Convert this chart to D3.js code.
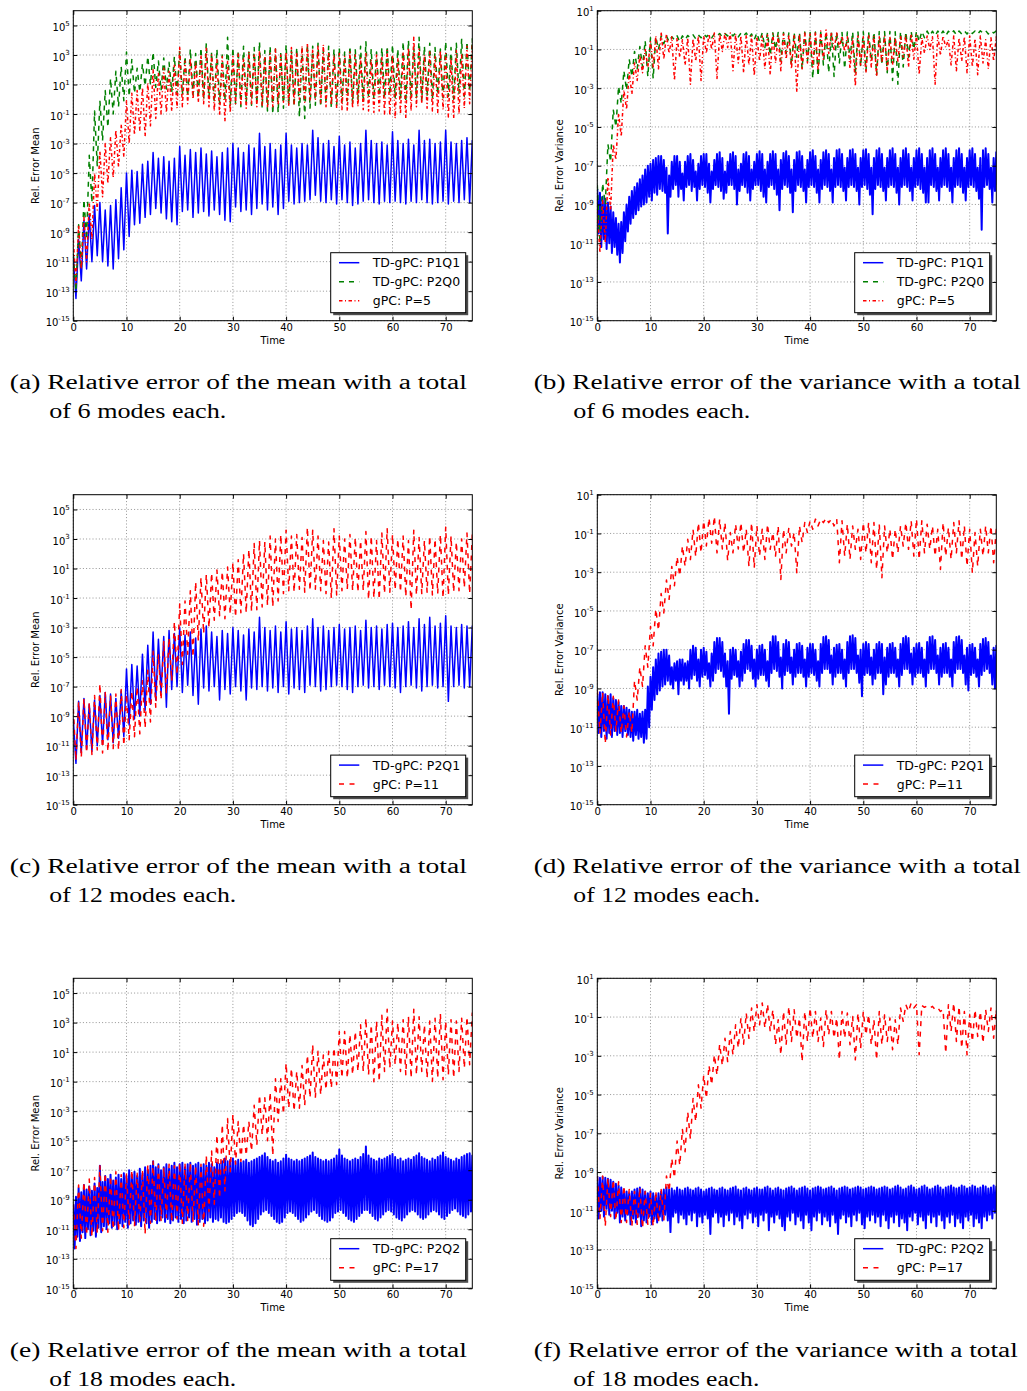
<!DOCTYPE html>
<html>
<head>
<meta charset="utf-8">
<script src="https://cdn.jsdelivr.net/npm/d3@7"></script>
<style>
  body { margin: 0; background: #fff; }
  svg { display: block; }
</style>
</head>
<body>
<svg id="fig" width="1027" height="1391"></svg>
<script>
// Relative error histories, stored as log10 of the error.
// Each series is sampled on a uniform time step; within every step the
// curve swings from its upper value (Hi) down to its lower value (Lo).

const timeTicks = [0, 10, 20, 30, 40, 50, 60, 70];
const meanExponents = [5, 3, 1, -1, -3, -5, -7, -9, -11, -13, -15];
const varExponents = [1, -1, -3, -5, -7, -9, -11, -13, -15];

// (a) mean, 6 modes (step 1)
const aP1Q1Hi = [-10.5,-9.5,-8.2,-7.8,-7.2,-7.0,-7.5,-7.2,-6.8,-6.0,
  -5.0,-4.8,-4.9,-4.4,-4.2,-3.6,-4.0,-3.9,-4.2,-4.0,
  -3.2,-3.8,-3.4,-3.6,-3.3,-3.7,-3.5,-3.9,-3.6,-3.3,
  -3.0,-3.3,-3.6,-3.1,-3.3,-2.3,-3.2,-3.0,-3.4,-3.1,
  -2.3,-3.1,-3.3,-3.0,-3.1,-2.1,-2.6,-3.0,-2.8,-3.2,
  -2.5,-3.1,-2.9,-3.3,-3.0,-2.1,-2.8,-3.0,-2.9,-3.1,
  -2.2,-2.8,-3.0,-2.7,-3.1,-2.1,-2.8,-2.7,-3.0,-2.9,
  -2.1,-2.9,-3.0,-2.8,-2.6,-2.8];
const aP1Q1Lo = [-13.5,-12.3,-11.5,-11.0,-10.6,-11.0,-11.3,-11.5,-10.8,-10.2,
  -9.3,-8.5,-8.4,-8.0,-7.8,-7.4,-7.7,-8.1,-8.3,-8.5,
  -7.6,-7.5,-8.0,-7.7,-7.6,-7.9,-7.5,-7.8,-8.2,-8.3,
  -7.3,-7.6,-7.5,-7.8,-7.4,-7.1,-7.5,-7.3,-7.8,-7.4,
  -6.9,-7.1,-7.0,-6.9,-6.8,-6.5,-6.9,-7.0,-6.8,-7.1,
  -6.8,-7.0,-7.2,-7.1,-6.9,-6.8,-7.0,-7.1,-6.9,-7.0,
  -6.9,-7.0,-7.1,-6.9,-7.0,-6.8,-7.0,-7.1,-7.0,-6.9,
  -7.1,-6.9,-7.0,-6.8,-7.0,-6.1];
const aP2Q0Hi = [-10.5,-8.5,-6.8,-3.8,-0.8,-0.1,0.6,1.4,1.9,2.2,
  3.2,2.7,2.1,2.4,2.9,3.2,2.6,2.8,2.5,2.9,
  3.3,2.9,3.4,3.1,3.5,3.8,3.2,3.4,3.0,4.2,
  3.5,3.3,3.6,3.2,3.5,3.9,3.3,3.6,3.4,3.2,
  3.7,3.3,3.5,3.4,3.7,3.6,3.8,3.3,3.6,3.4,
  3.5,3.2,3.6,3.4,3.6,3.9,3.4,3.2,3.5,3.6,
  3.7,3.4,3.9,4.0,3.5,4.2,3.6,3.8,3.5,3.4,
  3.9,3.5,3.8,4.1,3.9,4.1];
const aP2Q0Lo = [-13.0,-11.5,-9.5,-7.0,-4.5,-2.8,-1.9,-1.0,-0.5,-0.1,
  0.2,0.4,0.5,0.9,1.0,0.8,0.6,0.7,0.5,0.4,
  0.3,0.2,0.3,0.1,0.0,0.1,-0.2,-0.3,-0.1,-0.4,
  -0.3,-0.5,-0.2,-0.4,-0.3,-0.6,-0.8,-1.0,-0.9,-0.6,
  -0.4,-0.5,-1.2,-1.3,-0.6,-0.4,-0.5,-0.3,-0.6,-0.4,
  -0.2,-0.1,-0.3,0.0,-0.2,0.1,0.0,0.2,0.1,0.3,
  0.1,0.0,-0.2,0.0,0.1,-0.1,0.2,0.0,0.3,0.1,
  0.2,0.0,0.4,0.2,0.5,0.3];
const aP5Hi = [-9.5,-8.5,-8.0,-7.0,-5.0,-3.5,-3.0,-2.6,-2.1,-1.7,
  -0.1,0.4,0.6,0.8,1.1,2.0,1.8,2.1,1.9,2.3,
  3.5,2.6,2.8,2.5,3.0,3.5,3.0,2.7,2.9,2.6,
  2.9,3.1,2.8,3.2,3.0,3.3,2.9,3.1,3.4,3.0,
  3.2,3.5,3.1,3.6,3.8,3.4,3.6,3.7,3.2,3.0,
  3.1,2.9,3.2,3.0,2.8,3.1,2.7,3.0,2.9,3.3,
  3.0,2.8,3.2,3.5,4.2,3.4,3.0,3.2,2.9,3.3,
  3.1,2.8,3.3,3.0,3.6,3.7];
const aP5Lo = [-12.5,-11.5,-11.0,-9.5,-7.5,-6.6,-5.7,-5.3,-4.6,-3.9,
  -3.0,-2.4,-2.1,-2.5,-1.8,-1.3,-1.0,-0.9,-0.8,-0.6,
  -0.5,-0.3,0.0,-0.2,-0.3,-0.5,-0.8,-1.1,-1.5,-0.9,
  -0.3,-0.4,-0.6,-0.3,-0.5,-0.4,-0.6,-0.5,-0.3,-0.2,
  -0.4,-0.3,0.0,-0.2,-0.1,0.0,-0.3,-0.5,-0.4,-0.6,
  -0.7,-0.8,-0.6,-0.5,-0.7,-0.8,-0.9,-0.8,-1.0,-1.1,
  -1.3,-1.0,-1.3,-0.8,-0.5,-0.3,-0.6,-0.8,-0.9,-0.7,
  -1.2,-1.3,-1.0,-0.6,-0.3,0.4];

// (b) variance, 6 modes (P1Q1 at step 0.5, others step 1)
const bP1Q1Hi = [-8.2,-8.4,-8.6,-8.7,-8.9,-9.1,-9.4,-9.7,-10.0,-9.9,
  -9.4,-9.0,-8.6,-8.3,-8.1,-7.9,-7.7,-7.5,-7.2,-7.0,
  -6.9,-6.7,-6.6,-6.5,-6.5,-6.7,-7.1,-7.5,-6.8,-6.5,
  -6.5,-6.8,-7.4,-6.8,-6.5,-6.4,-6.7,-7.3,-6.9,-6.5,
  -6.4,-6.4,-6.9,-7.3,-6.7,-6.4,-6.3,-6.6,-7.3,-6.8,
  -6.4,-6.3,-6.5,-7.2,-6.9,-6.4,-6.3,-6.5,-7.2,-6.8,
  -6.4,-6.25,-6.4,-7.2,-6.8,-6.4,-6.25,-6.4,-7.2,-6.7,
  -6.35,-6.25,-6.5,-7.2,-6.7,-6.3,-6.25,-6.5,-7.2,-6.7,
  -6.3,-6.2,-6.5,-7.2,-6.7,-6.3,-6.2,-6.4,-7.2,-6.6,
  -6.2,-6.15,-6.4,-7.1,-6.6,-6.2,-6.15,-6.4,-7.1,-6.6,
  -6.2,-6.15,-6.4,-7.1,-6.6,-6.2,-6.1,-6.4,-7.1,-6.6,
  -6.2,-6.1,-6.4,-7.1,-6.6,-6.2,-6.1,-6.4,-7.1,-6.6,
  -6.2,-6.1,-6.4,-7.1,-6.6,-6.2,-6.1,-6.4,-7.1,-6.6,
  -6.2,-6.1,-6.4,-7.1,-6.6,-6.2,-6.1,-6.4,-7.1,-6.6,
  -6.2,-6.1,-6.4,-7.1,-6.6,-6.2,-6.1,-6.4,-7.1,-6.6,
  -6.3];
const bP1Q1Lo = [-10.5,-11.2,-10.8,-11.3,-11.0,-11.5,-11.2,-11.6,-12.0,-11.5,
  -10.9,-10.4,-10.0,-9.7,-9.5,-9.3,-9.1,-9.0,-8.9,-8.6,
  -8.8,-8.4,-8.5,-8.2,-8.3,-8.4,-10.5,-8.6,-8.2,-8.0,
  -8.6,-8.2,-8.8,-8.1,-8.0,-8.3,-8.1,-8.8,-8.2,-8.0,
  -8.1,-8.4,-8.9,-8.2,-8.0,-8.1,-8.3,-8.7,-8.4,-8.0,
  -8.0,-8.2,-9.0,-8.3,-8.0,-8.1,-8.4,-8.8,-8.2,-8.0,
  -8.0,-8.3,-8.6,-8.9,-8.1,-8.0,-8.2,-8.5,-9.3,-8.2,
  -8.0,-8.1,-8.4,-9.4,-8.3,-8.0,-8.1,-8.3,-8.9,-8.1,
  -8.0,-8.1,-8.4,-8.9,-8.2,-8.0,-8.1,-8.3,-8.9,-8.1,
  -8.0,-8.1,-8.3,-8.8,-8.1,-8.0,-8.1,-8.3,-9.0,-8.1,
  -8.0,-8.2,-8.5,-9.5,-8.2,-8.0,-8.1,-8.3,-8.8,-8.1,
  -8.0,-8.1,-8.4,-9.0,-8.1,-8.0,-8.1,-8.3,-8.8,-8.1,
  -8.0,-8.2,-8.4,-8.9,-8.9,-8.0,-8.1,-8.3,-8.8,-8.1,
  -8.0,-8.1,-8.3,-8.9,-8.1,-8.0,-8.1,-8.4,-8.8,-8.1,
  -8.0,-8.1,-8.3,-8.7,-10.3,-8.1,-8.0,-8.2,-8.9,-8.3,
  -8.0];
const bP2Q0Hi = [-8.0,-7.9,-5.9,-4.1,-2.9,-2.1,-1.5,-1.1,-0.85,-0.55,
  -0.4,-0.35,-0.3,-0.3,-0.35,-0.3,-0.3,-0.28,-0.25,-0.25,
  -0.2,-0.22,-0.2,-0.18,-0.18,-0.15,-0.15,-0.16,-0.15,-0.2,
  -0.15,-0.14,-0.13,-0.14,-0.12,-0.12,-0.15,-0.12,-0.12,-0.1,
  -0.12,-0.1,-0.11,-0.1,-0.1,-0.09,-0.12,-0.1,-0.09,-0.1,
  -0.08,-0.09,-0.1,-0.08,-0.08,-0.07,-0.09,-0.07,-0.08,-0.06,
  -0.06,-0.07,-0.05,-0.06,-0.05,-0.05,-0.06,-0.04,-0.05,-0.04,
  -0.04,-0.05,-0.04,-0.03,-0.04,-0.04];
const bP2Q0Lo = [-11.0,-9.0,-6.8,-5.0,-3.8,-3.1,-2.4,-2.0,-1.9,-2.4,
  -2.5,-1.0,-0.7,-0.6,-0.5,-0.6,-0.5,-0.4,-0.45,-0.4,
  -0.35,-0.4,-0.3,-0.35,-0.3,-0.3,-0.35,-0.3,-0.4,-0.5,
  -0.6,-0.9,-1.3,-1.0,-1.6,-1.2,-1.8,-1.4,-2.0,-1.6,
  -2.5,-2.4,-1.8,-2.2,-2.4,-1.7,-2.0,-1.5,-2.2,-1.9,
  -2.1,-1.6,-2.3,-1.8,-2.2,-2.6,-2.8,-1.9,-1.4,-1.0,
  -0.6,-0.4,-0.3,-0.3,-0.25,-0.3,-0.2,-0.25,-0.2,-0.2,
  -0.18,-0.2,-0.15,-0.2,-0.15,-0.15];
const bP5Hi = [-9.3,-8.8,-7.6,-5.9,-4.3,-3.1,-2.2,-1.7,-1.3,-1.0,
  -0.6,-0.3,-0.1,-0.2,-0.35,-0.4,-0.5,-0.4,-0.45,-0.3,
  -0.3,-0.2,-0.15,-0.2,-0.15,-0.15,-0.2,-0.3,-0.25,-0.3,
  -0.35,-0.3,-0.25,-0.2,-0.3,-0.2,-0.3,-0.25,-0.2,-0.15,
  -0.2,-0.1,-0.05,0.0,-0.1,-0.15,-0.3,-0.35,-0.4,-0.3,
  -0.35,-0.25,-0.3,-0.35,-0.3,-0.35,-0.4,-0.3,-0.25,-0.2,
  -0.25,-0.4,-0.3,-0.35,-0.25,-0.3,-0.5,-0.3,-0.4,-0.35,
  -0.3,-0.45,-0.3,-0.5,-0.4,-0.35];
const bP5Lo = [-11.5,-11.0,-9.3,-6.7,-5.5,-4.1,-3.3,-2.6,-2.2,-1.9,
  -1.9,-2.0,-1.5,-1.2,-2.6,-1.4,-1.8,-2.8,-1.6,-2.6,
  -1.2,-1.0,-2.5,-1.1,-0.9,-2.1,-1.7,-2.2,-1.8,-2.35,
  -1.6,-2.0,-2.3,-1.7,-2.1,-1.5,-2.0,-3.2,-2.0,-1.7,
  -1.9,-2.1,-1.5,-1.2,-1.0,-0.9,-1.1,-2.0,-2.9,-1.8,
  -2.2,-1.9,-2.4,-1.7,-2.1,-1.8,-1.6,-1.4,-1.9,-1.5,
  -2.3,-1.2,-1.0,-2.8,-1.3,-0.9,-1.8,-2.1,-1.6,-2.2,
  -1.9,-2.3,-1.7,-2.0,-1.6,-1.9];

// (c) mean, 12 modes (step 1)
const cP2Q1Hi = [-9.2,-8.0,-7.8,-8.2,-7.9,-7.6,-7.4,-7.5,-7.8,-7.3,
  -5.8,-5.5,-5.6,-4.8,-4.2,-3.3,-3.8,-3.6,-3.2,-3.4,
  -3.0,-3.5,-3.3,-3.7,-3.1,-2.9,-3.3,-3.6,-3.2,-3.4,
  -3.0,-3.2,-3.5,-3.1,-3.3,-2.3,-3.0,-3.2,-2.9,-3.3,
  -2.6,-3.1,-3.0,-3.2,-2.9,-2.4,-3.0,-2.9,-3.2,-3.0,
  -2.8,-3.1,-3.0,-2.9,-3.2,-2.5,-3.0,-2.9,-3.1,-2.8,
  -2.7,-3.0,-2.9,-2.6,-3.0,-2.4,-2.8,-2.3,-2.9,-2.7,
  -2.2,-2.9,-3.0,-2.8,-2.9,-2.9];
const cP2Q1Lo = [-12.2,-11.5,-11.2,-11.4,-11.0,-10.9,-10.6,-10.8,-10.5,-10.4,
  -9.6,-9.2,-9.0,-8.6,-8.2,-7.9,-7.4,-8.4,-7.2,-7.0,
  -7.4,-6.9,-7.6,-8.2,-7.1,-7.3,-7.0,-7.9,-7.2,-7.5,
  -7.0,-7.3,-7.9,-7.1,-7.2,-7.0,-7.3,-7.1,-7.4,-7.0,
  -7.5,-7.1,-7.2,-7.4,-6.9,-7.0,-7.3,-7.2,-7.0,-6.9,
  -7.0,-7.2,-7.4,-7.0,-6.9,-7.1,-7.0,-7.2,-6.9,-7.0,
  -7.1,-7.4,-7.0,-6.9,-7.1,-7.3,-7.0,-6.9,-7.1,-7.0,
  -8.0,-7.0,-6.9,-7.1,-7.0,-6.6];
const cP11Hi = [-8.5,-8.0,-7.8,-8.1,-7.6,-6.8,-7.4,-7.6,-7.5,-7.2,
  -7.5,-7.3,-7.0,-6.6,-5.9,-4.6,-4.8,-3.9,-3.7,-2.6,
  -1.4,-1.2,-0.5,0.1,0.4,0.6,0.7,0.9,0.8,1.1,
  1.4,1.6,2.0,2.3,2.7,2.9,2.8,3.2,3.0,3.3,
  3.6,3.2,3.3,3.1,3.8,3.6,3.2,2.9,2.8,3.7,
  3.2,3.0,3.3,3.1,2.9,3.5,3.2,2.9,3.4,3.7,
  3.3,3.0,3.2,2.9,3.6,3.1,2.9,3.2,3.0,3.3,
  3.8,3.2,2.8,3.0,3.4,3.3];
const cP11Lo = [-12.0,-11.8,-11.5,-11.6,-11.3,-11.5,-11.4,-11.2,-11.3,-11.0,
  -10.6,-10.4,-10.2,-9.8,-9.4,-8.4,-7.9,-7.5,-6.6,-6.2,
  -5.5,-4.8,-5.0,-3.9,-3.4,-3.0,-2.5,-2.2,-2.4,-2.1,
  -2.3,-2.0,-2.0,-1.9,-1.8,-1.6,-1.5,-1.6,-1.2,-0.7,
  -0.5,-0.6,-0.4,-0.6,-0.5,-0.4,-0.5,-0.7,-1.0,-0.8,
  -0.5,-0.4,-0.5,-0.6,-0.5,-1.1,-1.0,-1.1,-0.7,-0.6,
  -0.45,-0.6,-0.9,-1.8,-0.8,-0.7,-0.6,-0.8,-0.7,-1.0,
  -0.8,-0.6,-0.5,-0.3,-0.7,0.2];

// (d) variance, 12 modes (P2Q1 at step 0.5, P=11 at step 1)
const dP2Q1Hi = [-9.3,-9.2,-9.2,-9.3,-9.4,-9.3,-9.5,-9.6,-9.7,-9.9,
  -9.9,-10.0,-10.1,-10.2,-10.2,-10.1,-10.3,-10.2,-10.1,-8.9,
  -8.4,-7.9,-7.5,-7.2,-7.1,-7.0,-7.0,-7.3,-7.9,-7.7,
  -7.6,-7.5,-7.5,-7.7,-7.6,-7.0,-6.8,-6.9,-7.5,-7.0,
  -6.9,-7.1,-7.7,-7.2,-6.6,-6.4,-6.4,-6.6,-7.2,-7.6,
  -7.0,-6.9,-7.0,-7.6,-7.1,-6.7,-6.5,-6.5,-6.8,-7.5,
  -7.0,-6.8,-6.75,-7.0,-7.6,-6.6,-6.3,-6.3,-6.6,-7.4,
  -6.7,-6.5,-6.6,-7.4,-7.0,-6.7,-6.65,-6.8,-7.5,-6.9,
  -6.7,-6.7,-7.0,-7.6,-6.7,-6.35,-6.3,-6.5,-7.3,-6.9,
  -6.75,-6.7,-7.0,-7.5,-6.6,-6.3,-6.25,-6.4,-7.3,-7.0,
  -6.7,-6.6,-6.7,-7.4,-7.0,-6.7,-6.6,-6.7,-7.4,-6.9,
  -6.7,-6.65,-6.9,-7.5,-6.7,-6.4,-6.3,-6.4,-7.2,-6.9,
  -6.7,-6.65,-6.9,-7.5,-6.6,-6.35,-6.3,-6.5,-7.3,-6.9,
  -6.7,-6.65,-6.9,-7.5,-6.6,-6.35,-6.3,-6.5,-7.3,-6.9,
  -6.75,-6.7,-6.9,-7.5,-6.7,-6.45,-6.4,-6.6,-7.3,-6.9,
  -6.8];
const dP2Q1Lo = [-11.3,-11.5,-11.2,-11.6,-11.3,-11.5,-11.2,-11.4,-11.3,-11.5,
  -11.2,-11.4,-11.5,-11.7,-11.4,-11.6,-11.5,-11.8,-11.6,-11.0,
  -10.1,-9.6,-9.3,-9.1,-8.9,-8.8,-8.6,-8.8,-9.0,-8.6,
  -9.3,-8.6,-8.8,-8.6,-9.0,-8.5,-8.3,-8.6,-8.9,-8.4,
  -8.3,-8.5,-8.9,-8.6,-8.2,-8.0,-8.1,-8.4,-8.9,-10.3,
  -8.5,-8.3,-8.4,-8.9,-8.6,-8.2,-8.0,-8.1,-8.5,-8.9,
  -8.5,-8.3,-8.3,-8.6,-8.9,-8.2,-8.0,-8.1,-8.4,-9.0,
  -8.3,-8.1,-8.2,-8.8,-8.4,-8.2,-8.2,-8.4,-8.9,-8.4,
  -8.2,-8.3,-8.6,-8.9,-8.2,-8.0,-8.0,-8.2,-8.8,-8.4,
  -8.2,-8.2,-8.5,-8.9,-8.2,-8.0,-8.0,-8.2,-8.7,-9.4,
  -8.3,-8.2,-8.3,-8.8,-8.5,-8.2,-8.2,-9.3,-8.8,-8.4,
  -8.2,-8.2,-8.4,-8.9,-8.3,-8.0,-8.0,-8.2,-8.8,-8.4,
  -8.2,-8.2,-8.4,-8.9,-8.2,-8.0,-8.0,-8.2,-8.8,-8.4,
  -8.2,-8.2,-8.4,-8.9,-8.2,-8.0,-8.0,-8.2,-8.8,-9.1,
  -8.3,-8.2,-8.4,-8.9,-8.3,-8.1,-8.0,-8.2,-8.8,-9.0,
  -8.5];
const dP11Hi = [-9.1,-9.2,-9.3,-9.4,-9.6,-9.9,-10.2,-8.6,-7.9,-6.8,
  -5.8,-4.9,-4.1,-3.4,-2.7,-2.2,-1.65,-1.3,-0.8,-0.45,
  -0.35,-0.2,-0.12,-0.26,-0.44,-0.95,-0.52,-0.44,-0.78,-0.44,
  -0.61,-0.78,-0.52,-0.95,-0.61,-0.78,-0.7,-0.95,-0.61,-0.44,
  -0.35,-0.26,-0.26,-0.2,-0.26,-0.26,-0.35,-0.52,-0.61,-0.78,
  -0.44,-0.44,-0.44,-0.52,-0.61,-0.78,-0.78,-0.61,-0.44,-0.35,
  -0.26,-0.35,-0.52,-0.61,-0.78,-0.44,-0.7,-0.44,-0.35,-0.61,
  -0.78,-0.95,-0.78,-0.61,-0.61,-0.78];
const dP11Lo = [-11.3,-11.85,-11.4,-11.2,-11.3,-11.5,-11.3,-9.6,-8.9,-7.9,
  -6.8,-6.0,-5.1,-4.4,-3.7,-3.2,-2.7,-2.35,-2.2,-2.0,
  -1.65,-1.5,-2.0,-1.8,-2.4,-2.0,-1.8,-2.0,-2.7,-2.77,
  -2.17,-2.34,-1.82,-2.17,-3.38,-2.0,-1.65,-3.03,-1.47,-0.95,
  -0.78,-0.61,-0.44,-0.44,-0.61,-2.51,-2.17,-2.34,-1.82,-2.34,
  -2.0,-2.51,-2.86,-3.29,-2.0,-2.34,-2.0,-1.65,-1.82,-2.17,
  -2.34,-2.0,-1.82,-2.17,-2.86,-2.17,-2.34,-2.0,-2.34,-2.69,
  -3.03,-2.69,-2.17,-2.0,-2.51,-2.25];

// (e) mean, 18 modes (P2Q2 at step 0.5, P=17 at step 1)
const eP2Q2Hi = [-9.3,-8.8,-8.2,-8.5,-8.0,-8.3,-8.1,-8.4,-7.9,-8.2,
  -6.7,-7.8,-7.4,-7.6,-7.3,-7.7,-7.5,-7.3,-7.6,-7.2,
  -7.4,-7.0,-7.3,-7.1,-7.4,-6.9,-7.2,-6.8,-7.0,-6.7,
  -6.4,-6.8,-6.6,-7.0,-6.8,-6.6,-6.9,-6.7,-6.5,-6.8,
  -6.6,-6.5,-6.8,-6.6,-6.5,-6.7,-6.6,-6.5,-6.8,-6.6,
  -6.7,-6.5,-6.6,-6.8,-6.5,-6.6,-6.4,-6.2,-6.4,-6.3,
  -6.2,-6.4,-6.3,-6.5,-6.4,-6.3,-6.5,-6.4,-6.3,-6.2,
  -6.1,-6.0,-5.85,-6.1,-6.3,-6.4,-6.3,-6.5,-6.4,-6.2,
  -5.95,-6.2,-6.3,-6.4,-6.3,-6.4,-6.3,-6.2,-6.1,-6.0,
  -5.8,-6.1,-6.2,-6.3,-6.4,-6.3,-6.4,-6.3,-6.2,-6.0,
  -5.6,-6.0,-6.2,-6.3,-6.4,-6.3,-6.2,-6.3,-6.1,-5.9,
  -5.4,-6.0,-6.2,-6.3,-6.4,-6.2,-6.3,-6.2,-6.1,-6.0,
  -5.9,-6.1,-6.3,-6.2,-6.4,-6.3,-6.2,-6.3,-6.1,-6.0,
  -5.85,-6.1,-6.2,-6.3,-6.4,-6.2,-6.3,-6.1,-6.0,-5.8,
  -6.1,-6.2,-6.3,-6.4,-6.2,-6.3,-6.1,-6.0,-5.9,-5.85,
  -6.0];
const eP2Q2Lo = [-12.3,-11.5,-11.8,-11.2,-11.6,-11.0,-11.4,-11.1,-11.5,-10.9,
  -11.2,-10.8,-11.0,-10.6,-10.9,-10.7,-11.0,-10.6,-10.8,-10.5,
  -10.9,-10.6,-10.4,-10.7,-10.5,-10.8,-10.4,-10.6,-10.9,-10.5,
  -10.3,-10.6,-10.4,-10.2,-10.5,-10.3,-10.6,-10.4,-10.2,-10.5,
  -10.3,-10.6,-10.4,-10.2,-10.5,-10.3,-10.7,-10.5,-10.3,-10.6,
  -10.4,-10.2,-10.5,-10.3,-10.4,-10.2,-10.5,-10.6,-10.5,-10.3,
  -10.1,-9.9,-9.8,-9.9,-10.1,-10.4,-10.7,-10.8,-10.6,-10.3,
  -10.0,-9.8,-9.7,-9.9,-10.1,-10.3,-10.5,-10.6,-10.5,-10.2,
  -9.9,-9.8,-9.9,-10.1,-10.3,-10.5,-10.4,-10.2,-10.0,-9.8,
  -9.7,-9.9,-10.1,-10.3,-10.4,-10.5,-10.4,-10.2,-9.9,-9.8,
  -9.7,-9.9,-10.1,-10.3,-10.4,-10.5,-10.3,-10.1,-9.9,-9.7,
  -9.7,-9.9,-10.1,-10.3,-10.4,-10.2,-10.0,-9.8,-9.7,-9.8,
  -10.0,-10.2,-10.3,-10.4,-10.2,-10.0,-9.8,-9.7,-9.8,-10.0,
  -10.2,-10.3,-10.2,-10.0,-9.8,-9.7,-9.8,-10.0,-10.2,-10.3,
  -10.1,-9.9,-9.7,-9.6,-9.8,-10.0,-10.1,-10.2,-10.0,-9.8,
  -9.6];
const eP17Hi = [-9.3,-8.0,-7.8,-7.6,-7.5,-6.7,-7.2,-7.4,-7.1,-7.3,
  -7.2,-7.0,-7.2,-7.0,-6.6,-6.4,-6.7,-6.8,-6.6,-6.7,
  -6.5,-6.6,-6.5,-6.7,-6.6,-6.0,-5.7,-4.6,-3.9,-3.5,
  -3.2,-3.7,-3.9,-3.7,-2.6,-1.9,-2.1,-1.7,-0.8,-0.8,
  0.25,-0.1,-0.3,0.1,0.8,1.5,1.05,0.8,1.05,1.3,
  2.4,2.4,2.2,2.4,2.85,3.3,2.85,3.1,3.5,3.9,
  3.1,3.0,3.2,3.4,3.9,3.4,2.85,3.1,3.3,3.6,
  3.1,3.2,3.1,3.3,3.4,3.65];
const eP17Lo = [-12.3,-11.6,-11.4,-11.5,-11.3,-11.1,-11.2,-11.0,-11.1,-10.9,
  -10.7,-10.8,-10.6,-11.3,-10.6,-10.5,-10.4,-10.2,-10.5,-10.3,
  -10.6,-10.4,-10.5,-10.7,-10.8,-9.8,-9.3,-8.9,-8.4,-7.1,
  -6.6,-6.4,-6.0,-5.7,-5.3,-4.6,-5.0,-6.0,-3.7,-3.2,
  -2.8,-3.0,-2.8,-2.6,-2.1,-2.1,-1.9,-1.55,-1.44,-1.2,
  -0.75,-0.76,-0.53,-0.31,-0.31,-0.53,-1.0,-1.0,-0.31,-0.08,
  0.14,-0.31,-0.53,-0.76,-0.53,-0.31,-0.76,-0.99,-0.76,-0.87,
  -0.53,-0.76,-0.31,-0.08,0.14,0.14];

// (f) variance, 18 modes (P2Q2 at step 0.5, P=17 at step 1)
const fP2Q2Hi = [-9.2,-9.3,-9.25,-9.3,-9.35,-9.4,-9.5,-9.6,-9.7,-9.8,
  -9.9,-10.0,-10.1,-10.0,-9.9,-9.85,-9.8,-9.9,-10.0,-10.1,
  -10.0,-10.1,-10.2,-10.1,-10.0,-9.9,-9.8,-9.9,-9.85,-9.95,
  -9.8,-9.9,-9.95,-9.85,-9.8,-9.9,-9.95,-9.85,-9.8,-9.9,
  -10.0,-9.9,-9.85,-9.8,-9.9,-9.95,-9.85,-9.8,-9.9,-9.95,
  -9.85,-9.8,-9.75,-9.9,-9.95,-9.85,-9.8,-9.9,-9.95,-9.85,
  -9.8,-9.9,-9.9,-9.8,-9.75,-9.85,-9.95,-9.85,-9.8,-9.9,
  -9.95,-9.85,-9.8,-9.75,-9.85,-9.95,-9.85,-9.8,-9.75,-9.85,
  -9.95,-9.85,-9.8,-9.75,-9.8,-9.9,-9.85,-9.8,-9.75,-9.85,
  -9.95,-9.85,-9.8,-9.75,-9.8,-9.9,-9.85,-9.8,-9.75,-9.8,
  -9.9,-9.85,-9.8,-9.75,-9.8,-9.9,-9.85,-9.8,-9.75,-9.8,
  -9.9,-9.85,-9.75,-9.7,-9.8,-9.9,-9.85,-9.75,-9.7,-9.8,
  -9.9,-9.85,-9.75,-9.7,-9.8,-9.9,-9.85,-9.75,-9.7,-9.8,
  -9.9,-9.8,-9.75,-9.7,-9.8,-9.85,-9.8,-9.7,-9.75,-9.85,
  -9.8,-9.7,-9.75,-9.85,-9.8,-9.7,-9.75,-9.85,-9.8,-9.7,
  -9.75];
const fP2Q2Lo = [-11.4,-11.0,-11.3,-10.9,-11.2,-11.0,-11.4,-11.1,-11.6,-11.3,
  -11.5,-11.2,-11.7,-11.4,-11.6,-11.3,-11.8,-11.5,-11.6,-11.3,
  -11.7,-11.4,-11.6,-11.3,-11.5,-11.2,-11.5,-12.1,-11.3,-11.1,
  -11.6,-11.2,-11.4,-11.7,-11.2,-11.5,-11.1,-11.8,-11.3,-11.6,
  -11.2,-11.4,-12.2,-11.3,-11.1,-11.6,-11.3,-11.8,-11.2,-11.5,
  -11.1,-11.7,-11.3,-11.5,-11.9,-11.2,-11.4,-11.1,-11.6,-11.3,
  -11.8,-11.2,-11.5,-11.1,-12.0,-11.3,-11.6,-11.2,-11.4,-11.8,
  -12.0,-11.3,-11.5,-11.1,-11.7,-11.3,-11.5,-11.9,-11.2,-11.6,
  -12.0,-11.3,-11.5,-11.1,-11.7,-11.3,-11.5,-11.8,-11.2,-11.6,
  -12.2,-11.4,-11.2,-11.6,-11.3,-11.8,-11.2,-11.5,-11.1,-11.7,
  -11.9,-11.3,-11.5,-11.2,-11.6,-11.3,-11.8,-11.2,-11.5,-11.9,
  -11.3,-11.6,-11.2,-11.8,-11.4,-11.6,-12.0,-11.3,-11.5,-11.1,
  -11.7,-11.3,-11.5,-11.9,-11.2,-11.6,-11.3,-11.8,-11.2,-11.5,
  -11.9,-11.3,-11.6,-11.2,-11.8,-11.4,-11.6,-11.9,-11.3,-11.5,
  -11.2,-11.8,-11.4,-11.6,-11.9,-11.3,-11.5,-11.2,-11.4,-11.1,
  -11.0];
const fP17Hi = [-9.2,-9.2,-9.3,-9.4,-9.5,-9.7,-9.9,-10.0,-9.8,-10.0,
  -10.1,-10.0,-9.9,-9.2,-8.3,-7.4,-6.8,-5.9,-5.2,-4.5,
  -4.0,-3.5,-2.95,-2.4,-2.1,-1.75,-1.4,-1.05,-0.8,-0.53,
  -0.36,-0.27,-0.33,-0.62,-1.14,-0.71,-0.45,-0.62,-1.05,-0.71,
  -0.53,-0.71,-1.05,-0.62,-0.71,-1.05,-0.71,-0.79,-0.97,-0.79,
  -0.71,-0.88,-1.14,-0.71,-0.88,-1.05,-1.14,-0.53,-0.36,-0.27,
  -0.36,-0.4,-0.43,-0.45,-0.53,-0.62,-0.36,-0.27,-0.45,-0.71,
  -0.88,-0.62,-0.71,-0.62,-0.53,-0.62];
const fP17Lo = [-11.4,-11.8,-11.3,-11.5,-11.6,-11.6,-11.8,-11.7,-11.9,-11.7,
  -11.8,-11.6,-11.5,-10.0,-9.3,-8.65,-7.95,-7.3,-6.4,-5.7,
  -5.2,-4.5,-4.0,-3.5,-3.3,-2.95,-2.6,-2.4,-2.1,-1.75,
  -1.4,-1.57,-1.74,-2.43,-2.95,-2.43,-2.26,-2.09,-3.3,-2.26,
  -2.09,-2.26,-2.52,-1.92,-2.09,-3.21,-2.09,-2.43,-3.21,-2.61,
  -1.92,-2.43,-3.21,-2.43,-2.26,-2.69,-2.43,-1.22,-0.71,-0.53,
  -2.95,-0.5,-0.53,-0.62,-0.71,-2.87,-1.74,-2.26,-2.61,-2.95,
  -2.26,-2.0,-2.35,-1.74,-2.09,-3.12];

// ---------------------------------------------------------------------------
// Figure layout and styling

const W = 1027, H = 1391;
const PLOT_W = 399, PLOT_H = 310;
const COL_X = [73.3, 597.3];
const ROW_Y = [10.7, 494.7, 978.3];
const T_MAX = 75;

const STYLES = {
  blue:       { color: '#0000ff', dash: null },
  green:      { color: '#008000', dash: '5,5' },
  redDashDot: { color: '#ff0000', dash: '3.5,2.5,1,2.5' },
  redDash:    { color: '#ff0000', dash: '5,5.5' }
};

const panels = [
  { key: 'a', col: 0, row: 0, yTop: 1e6, exps: meanExponents, ylabel: 'Rel. Error Mean',
    caption: ['(a) Relative error of the mean with a total', 'of 6 modes each.'], capW: [457, 177],
    series: [
      { label: 'TD-gPC: P1Q1', hi: aP1Q1Hi, lo: aP1Q1Lo, dt: 1, style: 'blue' },
      { label: 'TD-gPC: P2Q0', hi: aP2Q0Hi, lo: aP2Q0Lo, dt: 1, style: 'green' },
      { label: 'gPC: P=5',     hi: aP5Hi,   lo: aP5Lo,   dt: 1, style: 'redDashDot' }
    ] },
  { key: 'b', col: 1, row: 0, yTop: 1e1, exps: varExponents, ylabel: 'Rel. Error Variance',
    caption: ['(b) Relative error of the variance with a total', 'of 6 modes each.'], capW: [487, 177],
    series: [
      { label: 'TD-gPC: P1Q1', hi: bP1Q1Hi, lo: bP1Q1Lo, dt: 0.5, style: 'blue' },
      { label: 'TD-gPC: P2Q0', hi: bP2Q0Hi, lo: bP2Q0Lo, dt: 1, style: 'green' },
      { label: 'gPC: P=5',     hi: bP5Hi,   lo: bP5Lo,   dt: 1, style: 'redDashDot' }
    ] },
  { key: 'c', col: 0, row: 1, yTop: 1e6, exps: meanExponents, ylabel: 'Rel. Error Mean',
    caption: ['(c) Relative error of the mean with a total', 'of 12 modes each.'], capW: [457, 187],
    series: [
      { label: 'TD-gPC: P2Q1', hi: cP2Q1Hi, lo: cP2Q1Lo, dt: 1, style: 'blue' },
      { label: 'gPC: P=11',    hi: cP11Hi,  lo: cP11Lo,  dt: 1, style: 'redDash' }
    ] },
  { key: 'd', col: 1, row: 1, yTop: 1e1, exps: varExponents, ylabel: 'Rel. Error Variance',
    caption: ['(d) Relative error of the variance with a total', 'of 12 modes each.'], capW: [487, 187],
    series: [
      { label: 'TD-gPC: P2Q1', hi: dP2Q1Hi, lo: dP2Q1Lo, dt: 0.5, style: 'blue' },
      { label: 'gPC: P=11',    hi: dP11Hi,  lo: dP11Lo,  dt: 1, style: 'redDash' }
    ] },
  { key: 'e', col: 0, row: 2, yTop: 1e6, exps: meanExponents, ylabel: 'Rel. Error Mean',
    caption: ['(e) Relative error of the mean with a total', 'of 18 modes each.'], capW: [457, 187],
    series: [
      { label: 'TD-gPC: P2Q2', hi: eP2Q2Hi, lo: eP2Q2Lo, dt: 0.5, style: 'blue' },
      { label: 'gPC: P=17',    hi: eP17Hi,  lo: eP17Lo,  dt: 1, style: 'redDash' }
    ] },
  { key: 'f', col: 1, row: 2, yTop: 1e1, exps: varExponents, ylabel: 'Rel. Error Variance',
    caption: ['(f) Relative error of the variance with a total', 'of 18 modes each.'], capW: [484, 186],
    series: [
      { label: 'TD-gPC: P2Q2', hi: fP2Q2Hi, lo: fP2Q2Lo, dt: 0.5, style: 'blue' },
      { label: 'gPC: P=17',    hi: fP17Hi,  lo: fP17Lo,  dt: 1, style: 'redDash' }
    ] }
];

const svg = d3.select('#fig');
svg.append('rect').attr('width', W).attr('height', H).attr('fill', '#fff');

const SANS = 'DejaVu Sans, sans-serif';
const SERIF = 'Liberation Serif, Times New Roman, serif';

// Turn the hi/lo samples of a series into the alternating point list
function swingPoints(s) {
  const n = Math.min(s.hi.length, s.lo.length);
  const pts = [];
  for (let i = 0; i < n; i++) {
    pts.push([i * s.dt, Math.pow(10, s.hi[i])]);
    pts.push([i * s.dt + s.dt / 2, Math.pow(10, s.lo[i])]);
  }
  return pts;
}

panels.forEach(p => {
  const x0 = COL_X[p.col], y0 = ROW_Y[p.row];
  const g = svg.append('g').attr('transform', `translate(${x0},${y0})`);

  const x = d3.scaleLinear().domain([0, T_MAX]).range([0, PLOT_W]);
  const y = d3.scaleLog().domain([1e-15, p.yTop]).range([PLOT_H, 0]);
  const yTicks = p.exps.map(e => Math.pow(10, e));

  // dotted grid
  const grid = g.append('g')
    .attr('stroke', '#7a7a7a').attr('stroke-width', 0.8).attr('stroke-dasharray', '1,2.2');
  timeTicks.forEach(t => grid.append('line')
    .attr('x1', x(t)).attr('x2', x(t)).attr('y1', 0).attr('y2', PLOT_H));
  yTicks.forEach(v => grid.append('line')
    .attr('x1', 0).attr('x2', PLOT_W).attr('y1', y(v)).attr('y2', y(v)));

  // data curves; the finely sampled swings are drawn wider so they read as a band
  const clipId = 'clip-' + p.key;
  g.append('clipPath').attr('id', clipId)
    .append('rect').attr('width', PLOT_W).attr('height', PLOT_H);
  const line = d3.line().x(d => x(d[0])).y(d => y(d[1]));
  const curves = g.append('g').attr('clip-path', `url(#${clipId})`);
  p.series.forEach(s => {
    const st = STYLES[s.style];
    curves.append('path')
      .attr('d', line(swingPoints(s)))
      .attr('fill', 'none')
      .attr('stroke', st.color)
      .attr('stroke-width', s.dt < 1 ? 2.0 : 1.5)
      .attr('stroke-linejoin', 'round')
      .attr('stroke-dasharray', st.dash);
  });

  // frame
  g.append('rect').attr('width', PLOT_W).attr('height', PLOT_H)
    .attr('fill', 'none').attr('stroke', '#000').attr('stroke-width', 1);

  // axes with inward ticks
  const xb = g.append('g').attr('transform', `translate(0,${PLOT_H})`)
    .call(d3.axisBottom(x).tickValues(timeTicks).tickSize(-4).tickPadding(3).tickFormat(d3.format('d')));
  xb.attr('font-family', SANS).attr('font-size', 10);
  xb.select('.domain').remove();

  const xt = g.append('g')
    .call(d3.axisTop(x).tickValues(timeTicks).tickSize(-4).tickFormat(() => ''));
  xt.select('.domain').remove();

  const yl = g.append('g')
    .call(d3.axisLeft(y).tickValues(yTicks).tickSize(-4).tickPadding(3.5).tickFormat(() => ''));
  yl.attr('font-family', SANS).attr('font-size', 10);
  yl.select('.domain').remove();
  yl.selectAll('.tick text').each(function (d) {
    const e = Math.round(Math.log10(d));
    const t = d3.select(this).attr('dy', null).attr('y', 5.2);
    t.append('tspan').text('10');
    t.append('tspan').attr('font-size', 7).attr('dy', -5.2).text(String(e));
  });

  const yr = g.append('g').attr('transform', `translate(${PLOT_W},0)`)
    .call(d3.axisRight(y).tickValues(yTicks).tickSize(-4).tickFormat(() => ''));
  yr.select('.domain').remove();

  // axis titles
  g.append('text').attr('x', PLOT_W / 2).attr('y', PLOT_H + 23)
    .attr('text-anchor', 'middle').attr('font-family', SANS).attr('font-size', 10)
    .text('Time');
  g.append('text')
    .attr('transform', `translate(-34,${PLOT_H / 2}) rotate(-90)`)
    .attr('text-anchor', 'middle').attr('font-family', SANS).attr('font-size', 10)
    .text(p.ylabel);

  // legend
  const nL = p.series.length;
  const lgW = 135, rowH = 19, lgH = nL * rowH + (nL === 3 ? 3 : 3.6);
  const lx = PLOT_W - 6.6 - lgW, ly = PLOT_H - 8 - lgH;
  const lg = g.append('g').attr('transform', `translate(${lx},${ly})`);
  lg.append('rect').attr('x', 2.5).attr('y', 2.5).attr('width', lgW).attr('height', lgH)
    .attr('fill', '#4d4d4d');
  lg.append('rect').attr('width', lgW).attr('height', lgH)
    .attr('fill', '#fff').attr('stroke', '#000').attr('stroke-width', 1);
  p.series.forEach((s, i) => {
    const st = STYLES[s.style];
    const ry = 10 + i * rowH;
    lg.append('line').attr('x1', 8.3).attr('x2', 28.6).attr('y1', ry).attr('y2', ry)
      .attr('stroke', st.color).attr('stroke-width', 1.5).attr('stroke-dasharray', st.dash);
    lg.append('text').attr('x', 42).attr('y', ry + 4.5)
      .attr('font-family', SANS).attr('font-size', 12.5).attr('fill', '#000')
      .text(s.label);
  });

  // caption
  const cap = svg.append('g').attr('font-family', SERIF).attr('font-size', 20).attr('fill', '#000');
  cap.append('text').attr('x', x0 - 63.5).attr('y', y0 + 378.6)
    .attr('textLength', p.capW[0]).attr('lengthAdjust', 'spacingAndGlyphs')
    .text(p.caption[0]);
  cap.append('text').attr('x', x0 - 24).attr('y', y0 + 407.6)
    .attr('textLength', p.capW[1]).attr('lengthAdjust', 'spacingAndGlyphs')
    .text(p.caption[1]);
});
</script>
</body>
</html>
